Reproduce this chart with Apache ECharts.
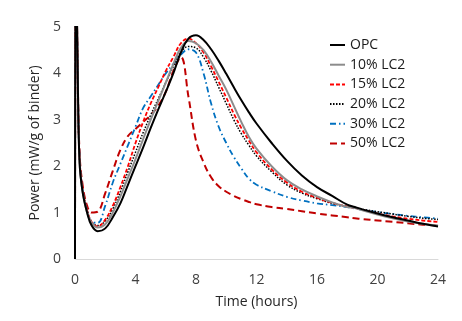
<!DOCTYPE html>
<html>
<head>
<meta charset="utf-8">
<script src="https://cdn.jsdelivr.net/npm/echarts@6/dist/echarts.min.js"></script>
<style>
html,body{margin:0;padding:0;background:#fff;}
#c{width:462px;height:321px;}
</style>
</head>
<body>
<div id="c"></div>
<script>
var time  = [0, 0.06, 0.18, 0.3, 0.5, 0.8, 1.1, 1.5, 2, 2.5, 3, 3.5, 4, 4.5, 5, 5.5, 6, 6.5, 7, 7.5, 8, 8.5, 9, 9.5, 10, 10.5, 11, 11.5, 12, 13, 14, 15, 16, 17, 18, 18.5, 19, 20, 21, 22, 23, 24];
var opc   = [0, 7, 4, 2.1, 1.45, 1.0, 0.72, 0.6, 0.66, 0.9, 1.2, 1.6, 2.0, 2.4, 2.82, 3.22, 3.6, 4.0, 4.45, 4.75, 4.82, 4.72, 4.52, 4.27, 3.99, 3.7, 3.42, 3.16, 2.92, 2.5, 2.12, 1.8, 1.55, 1.36, 1.17, 1.12, 1.07, 0.98, 0.9, 0.83, 0.76, 0.7];
var lc10  = [0, 7, 4, 2.1, 1.45, 1.0, 0.78, 0.68, 0.75, 1.0, 1.35, 1.75, 2.15, 2.58, 3.0, 3.4, 3.8, 4.2, 4.55, 4.7, 4.65, 4.5, 4.25, 3.95, 3.65, 3.3, 2.95, 2.63, 2.38, 2.0, 1.7, 1.5, 1.35, 1.22, 1.12, 1.1, 1.05, 0.96, 0.88, 0.81, 0.76, 0.72];
var lc15  = [0, 7, 4, 2.2, 1.5, 1.05, 0.8, 0.7, 0.85, 1.15, 1.55, 2.0, 2.5, 2.95, 3.35, 3.7, 4.05, 4.35, 4.65, 4.75, 4.65, 4.45, 4.15, 3.82, 3.48, 3.13, 2.82, 2.55, 2.3, 1.93, 1.65, 1.45, 1.32, 1.21, 1.13, 1.1, 1.06, 0.98, 0.92, 0.87, 0.83, 0.8];
var lc20  = [0, 7, 4, 2.2, 1.5, 1.05, 0.8, 0.72, 0.82, 1.08, 1.45, 1.88, 2.3, 2.72, 3.1, 3.45, 3.8, 4.15, 4.45, 4.58, 4.55, 4.35, 4.05, 3.7, 3.35, 3.0, 2.7, 2.45, 2.22, 1.88, 1.6, 1.42, 1.3, 1.2, 1.13, 1.1, 1.07, 1.02, 0.97, 0.92, 0.88, 0.85];
var lc30  = [0, 7, 4, 2.2, 1.5, 1.05, 0.8, 0.78, 1.15, 1.65, 2.05, 2.45, 2.85, 3.25, 3.5, 3.75, 4.0, 4.2, 4.4, 4.52, 4.45, 4.0, 3.35, 2.85, 2.5, 2.2, 1.95, 1.73, 1.6, 1.46, 1.34, 1.26, 1.2, 1.16, 1.12, 1.09, 1.06, 1.01, 0.97, 0.93, 0.9, 0.87];
var lc50  = [0, 7, 4, 2.3, 1.6, 1.15, 1.0, 1.02, 1.42, 1.9, 2.35, 2.65, 2.8, 2.95, 3.1, 3.3, 3.6, 4.05, 4.35, 3.5, 2.55, 2.08, 1.76, 1.57, 1.45, 1.36, 1.29, 1.23, 1.18, 1.12, 1.08, 1.03, 0.98, 0.94, 0.9, 0.88, 0.86, 0.83, 0.8, 0.77, 0.74, 0.72];
var names = ['OPC', '10% LC2', '15% LC2', '20% LC2', '30% LC2', '50% LC2'];

function pairs(ys){ return time.map(function(t,i){ return [t, ys[i]]; }); }

var FONT = 'Open Sans';
var styles = [
  {color:'#000000', width:2, type:'solid'},
  {color:'#8c8c8c', width:2, type:'solid'},
  {color:'#ff0000', width:1.8, type:[4,2]},
  {color:'#000000', width:1.5, type:[1.5,1.5]},
  {color:'#0070c0', width:1.8, type:[6,3,1.5,3]},
  {color:'#c00000', width:2, type:[7,4]}
];
var values = [opc, lc10, lc15, lc20, lc30, lc50];

var series = names.map(function(n, i){
  return {
    name: n, type: 'line', data: pairs(values[i]),
    smooth: 0.4, showSymbol: false, symbol: 'none', clip: true,
    lineStyle: {color: styles[i].color, width: styles[i].width, type: styles[i].type},
    itemStyle: {color: styles[i].color},
    z: 10 - i
  };
});

var chart = echarts.init(document.getElementById('c'));
chart.setOption({
  animation: false,
  backgroundColor: '#ffffff',
  grid: {left: 75, right: 24, top: 27, bottom: 62},
  legend: {
    data: names, orient: 'vertical', left: 324, top: 33,
    itemWidth: 15, itemHeight: 14, itemGap: 5.7,
    itemStyle: {opacity: 0},
    textStyle: {fontFamily: FONT, fontSize: 14, color: '#1a1a1a'}
  },
  xAxis: {
    type: 'value', min: 0, max: 24, interval: 4,
    name: 'Time (hours)', nameLocation: 'middle', nameGap: 36,
    nameTextStyle: {fontFamily: FONT, fontSize: 14, color: '#262626'},
    axisLine: {show: true, lineStyle: {color: '#d9d9d9', width: 1}},
    axisTick: {show: false},
    splitLine: {show: false},
    axisLabel: {fontFamily: FONT, fontSize: 14, color: '#404040', margin: 14}
  },
  yAxis: {
    type: 'value', min: 0, max: 5, interval: 1,
    name: 'Power (mW/g of binder)', nameLocation: 'middle', nameGap: 26,
    nameTextStyle: {fontFamily: FONT, fontSize: 14, color: '#262626'},
    axisLine: {show: false},
    axisTick: {show: false},
    splitLine: {show: false},
    axisLabel: {fontFamily: FONT, fontSize: 14, color: '#404040', margin: 14}
  },
  series: series
});
</script>
</body>
</html>
